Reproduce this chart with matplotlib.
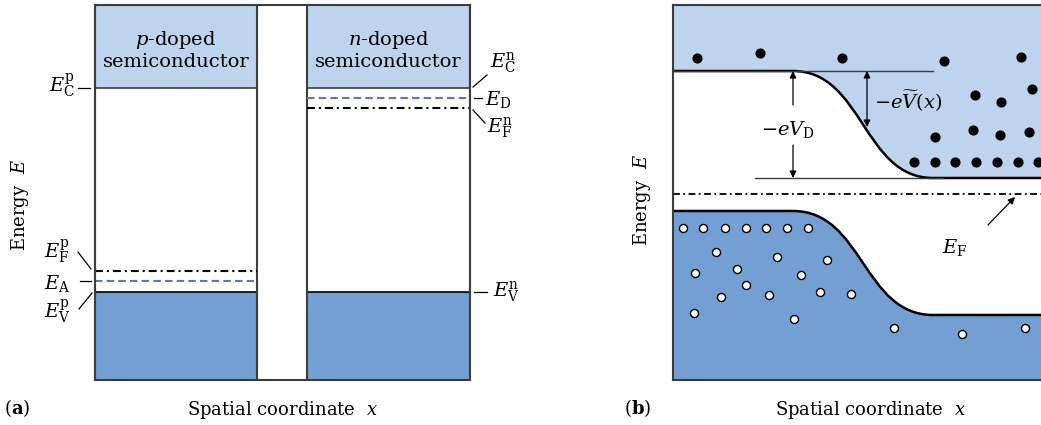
import numpy as np
import matplotlib.pyplot as plt
from matplotlib.path import Path
from matplotlib.patches import PathPatch

plt.rcParams['font.family'] = 'DejaVu Serif'
plt.rcParams['mathtext.fontset'] = 'dejavuserif'

LIGHT = '#bdd3ee'
DARK = '#749fd3'
DASHBLUE = '#6870c4'
EDGE = '#3c3c3c'

### panel (a): flat band levels (energy, arbitrary units measured from the bottom)
E_top = 375
E_C = 292
E_D = 282
E_F_n = 272
E_F_p = 109
E_A = 99
E_V = 88
box_p = (0, 162)
box_n = (212, 375)

### panel (b): band bending profile (x, energy)
cb_left, cb_right = 309, 202
vb_left, vb_right = 169, 65
bend_start, bend_mid, bend_end = 120, 190, 260
E_F_b = 186
width_b = 368

electrons_x = [24, 87, 169, 271, 348, 302, 328, 359, 262, 300, 327, 356,
               241, 262, 282, 303, 324, 345, 365]
electrons_E = [322, 327, 322, 319, 323, 285, 278, 291, 243, 250, 245, 248,
               218, 218, 218, 218, 218, 218, 218]
holes_x = [10, 30, 52, 73, 93, 114, 135, 43, 104, 154, 22, 64, 128, 73,
           48, 96, 147, 178, 21, 121, 221, 289, 352]
holes_E = [152, 152, 152, 152, 152, 152, 152, 128, 123, 120, 107, 111, 105, 95,
           83, 85, 88, 86, 67, 61, 52, 46, 52]

W, H = 1041, 425
fig = plt.figure(figsize=(W / 100, H / 100), dpi=100)

ax_a = fig.add_axes([95 / W, 45 / H, 375 / W, 375 / H])
ax_b = fig.add_axes([673 / W, 45 / H, width_b / W, 375 / H])

dashdot = (0, (3.8, 1.9, 1.0, 1.9))

#### panel a ####
ax_a.set_xlim(0, 375)
ax_a.set_ylim(0, E_top)
for lo, hi in (box_p, box_n):
    ax_a.fill_between([lo, hi], E_C, E_top, color=LIGHT, lw=0)
    ax_a.fill_between([lo, hi], 0, E_V, color=DARK, lw=0)
    ax_a.plot([lo, hi], [E_C, E_C], color=EDGE, lw=1.2)
    ax_a.plot([lo, hi], [E_V, E_V], color='black', lw=1.2)
    ax_a.axvline(lo, color=EDGE, lw=1.5)
    ax_a.axvline(hi, color=EDGE, lw=1.5)
ax_a.plot(box_p, [E_F_p, E_F_p], color='black', lw=1.5, ls=dashdot)
ax_a.plot(box_p, [E_A, E_A], color=DASHBLUE, lw=1.5, ls=(0, (3.6, 2.0)))
ax_a.plot(box_n, [E_F_n, E_F_n], color='black', lw=1.5, ls=dashdot)
ax_a.plot(box_n, [E_D, E_D], color=DASHBLUE, lw=1.5, ls=(0, (3.6, 2.0)))

ax_a.text(np.mean(box_p), 330, "$p$-doped\nsemiconductor", ha='center', va='center',
          fontsize=14, linespacing=1.15)
ax_a.text(np.mean(box_n), 330, "$n$-doped\nsemiconductor", ha='center', va='center',
          fontsize=14, linespacing=1.15)

lab = dict(fontsize=14, va='center', clip_on=False)
lk = dict(color='black', lw=0.9, clip_on=False)
ax_a.text(-20, E_C + 2, r"$E_\mathrm{C}^\mathrm{p}$", ha='right', **lab)
ax_a.plot([-17, -5], [E_C, E_C], **lk)
ax_a.text(-38, 128, r"$E_\mathrm{F}^\mathrm{p}$", ha='center', **lab)
ax_a.plot([-17, -4], [128, 111], **lk)
ax_a.text(-38, 97, r"$E_\mathrm{A}$", ha='center', **lab)
ax_a.plot([-15, -4], [E_A, E_A], **lk)
ax_a.text(-38, 68, r"$E_\mathrm{V}^\mathrm{p}$", ha='center', **lab)
ax_a.plot([-16, -3], [71, 87], **lk)

ax_a.text(395, 317, r"$E_\mathrm{C}^\mathrm{n}$", ha='left', **lab)
ax_a.plot([378, 392], [293, 305], **lk)
ax_a.text(390, 281, r"$E_\mathrm{D}$", ha='left', **lab)
ax_a.plot([379, 387], [E_D, E_D], **lk)
ax_a.text(392, 252, r"$E_\mathrm{F}^\mathrm{n}$", ha='left', **lab)
ax_a.plot([378, 390], [270, 257], **lk)
ax_a.text(398, 88, r"$E_\mathrm{V}^\mathrm{n}$", ha='left', **lab)
ax_a.plot([379, 392], [E_V, E_V], **lk)

#### panel b ####
ax_b.set_xlim(0, width_b)
ax_b.set_ylim(0, E_top)

def band_path(left, right, base):
    verts = [(0, base), (0, left), (bend_start, left),
             (bend_mid, left), (bend_mid, right), (bend_end, right),
             (width_b, right), (width_b, base), (0, base)]
    codes = [Path.MOVETO, Path.LINETO, Path.LINETO,
             Path.CURVE4, Path.CURVE4, Path.CURVE4,
             Path.LINETO, Path.LINETO, Path.CLOSEPOLY]
    return Path(verts, codes)

def edge_path(left, right):
    verts = [(0, left), (bend_start, left), (bend_mid, left), (bend_mid, right),
             (bend_end, right), (width_b, right)]
    codes = [Path.MOVETO, Path.LINETO, Path.CURVE4, Path.CURVE4, Path.CURVE4, Path.LINETO]
    return Path(verts, codes)

ax_b.add_patch(PathPatch(band_path(cb_left, cb_right, E_top), facecolor=LIGHT, lw=0))
ax_b.add_patch(PathPatch(band_path(vb_left, vb_right, 0), facecolor=DARK, lw=0))
ax_b.add_patch(PathPatch(edge_path(cb_left, cb_right), facecolor='none', edgecolor='black', lw=1.8))
ax_b.add_patch(PathPatch(edge_path(vb_left, vb_right), facecolor='none', edgecolor='black', lw=1.8))

ax_b.plot([0, bend_end], [cb_left, cb_left], color=EDGE, lw=1.0)
ax_b.plot([82, bend_end + 10], [cb_right, cb_right], color=EDGE, lw=1.0)
ax_b.plot([0, width_b], [E_F_b, E_F_b], color='black', lw=1.3, ls=dashdot)

arr = dict(arrowstyle='-|>', color='black', lw=0.9, mutation_scale=10, shrinkA=0, shrinkB=0)
ax_b.annotate("", xy=(bend_start, cb_left), xytext=(bend_start, 275), arrowprops=arr)
ax_b.annotate("", xy=(bend_start, cb_right), xytext=(bend_start, 235), arrowprops=arr)
ax_b.text(bend_start - 5, 251, r"$-eV_\mathrm{D}$", ha='center', va='center', fontsize=14)
ax_b.annotate("", xy=(194, 253), xytext=(194, cb_left),
              arrowprops=dict(arrowstyle='<|-|>', color='black', lw=0.9, mutation_scale=10,
                              shrinkA=0, shrinkB=0))
ax_b.text(201, 279, r"$-e\widetilde{V}(x)$", ha='left', va='center', fontsize=14)

ax_b.plot(electrons_x, electrons_E, 'o', color='black', ms=6.3, ls='none', clip_on=False)
ax_b.plot(holes_x, holes_E, 'o', mfc='white', mec='black', mew=1.0, ms=5.8, ls='none')

ax_b.annotate("", xy=(342, 183), xytext=(315, 155),
              arrowprops=dict(arrowstyle='-|>', color='black', lw=0.9, mutation_scale=10,
                              shrinkA=0, shrinkB=0))
ax_b.text(282, 133, r"$E_\mathrm{F}$", ha='center', va='center', fontsize=14)

for ax in (ax_a, ax_b):
    ax.set_xticks([])
    ax.set_yticks([])
    for s in ax.spines.values():
        s.set_color(EDGE)
        s.set_linewidth(1.5)
ax_b.spines['right'].set_visible(False)

# figure level labels
fig.text(20 / W, 1 - 205 / H, "Energy  $E$", rotation=90, ha='center', va='center', fontsize=13)
fig.text(642 / W, 1 - 200 / H, "Energy  $E$", rotation=90, ha='center', va='center', fontsize=13)
fig.text(17 / W, 1 - 408 / H, r"($\mathbf{a}$)", ha='center', va='center', fontsize=13)
fig.text(638 / W, 1 - 408 / H, r"($\mathbf{b}$)", ha='center', va='center', fontsize=13)
fig.text(282 / W, 1 - 410 / H, "Spatial coordinate  $x$", ha='center', va='center', fontsize=13)
fig.text(870 / W, 1 - 410 / H, "Spatial coordinate  $x$", ha='center', va='center', fontsize=13)

fig.savefig("out.png", dpi=100)
